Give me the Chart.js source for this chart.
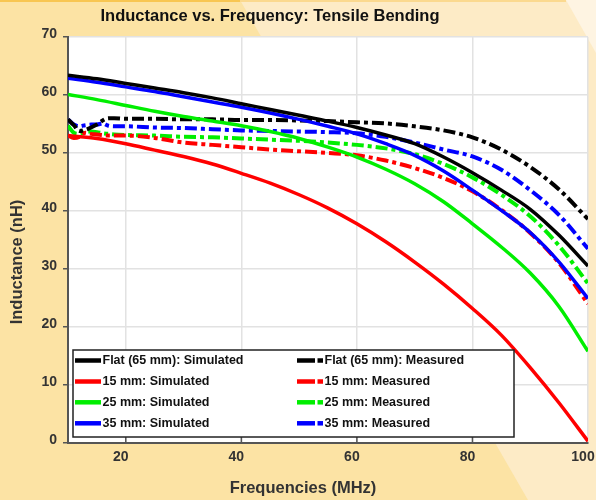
<!DOCTYPE html>
<html>
<head>
<meta charset="utf-8">
<script src="https://cdn.jsdelivr.net/npm/chart.js@4/dist/chart.umd.min.js"></script>
<style>
  html, body { margin: 0; padding: 0; background: #FCE3A4; }
  #wrap { width: 596px; height: 500px; position: relative; }
</style>
</head>
<body>
<div id="wrap"><canvas id="c" width="596" height="500"></canvas></div>
<script>
// ---- data ----
const simFreq = [10,15,20,25,30,35,40,45,50,55,60,65,70,75,80,85,90,95,100];
const flatSim = [63.4,62.8,62.0,61.2,60.4,59.5,58.5,57.5,56.5,55.5,54.4,53.1,51.6,49.3,46.6,43.6,40.3,35.8,30.5];
const mm15Sim = [53.0,52.5,51.6,50.5,49.4,48.1,46.5,44.8,42.8,40.5,37.8,34.7,31.2,27.4,23.2,18.6,13.0,6.9,0.3];
const mm25Sim = [60.1,59.2,58.2,57.2,56.3,55.5,54.7,53.7,52.5,51.0,49.3,47.2,44.7,41.6,37.8,33.8,29.3,23.5,15.8];
const mm35Sim = [62.9,62.2,61.4,60.6,59.7,58.8,57.9,56.9,55.8,54.6,53.3,51.6,49.6,46.9,43.6,40.1,36.3,31.2,24.9];

const measFreq = [10,11,12,13,14,15,16,17,18,20,25,30,35,40,45,50,55,60,65,70,75,80,85,90,95,100];
const flatMeas = [55.8,54.8,53.8,54.0,54.4,54.9,55.6,56.0,56.0,55.9,55.9,55.8,55.8,55.7,55.7,55.6,55.5,55.3,55.1,54.6,53.9,52.7,50.6,47.6,43.7,38.6];
const mm15Meas = [53.0,52.6,52.8,53.5,53.3,53.2,53.1,53.0,53.0,53.0,52.6,51.8,51.4,51.0,50.6,50.3,50.0,49.6,48.7,47.4,45.7,43.4,40.2,36.2,31.0,24.0];
const mm25Meas = [54.7,53.5,53.3,53.6,53.7,53.6,53.4,53.3,53.2,53.1,53.0,52.8,52.7,52.5,52.3,52.1,51.8,51.4,50.8,49.8,48.1,45.8,42.8,39.1,34.0,27.5];
const mm35Meas = [55.8,54.9,54.6,54.8,54.9,54.9,55.1,54.7,54.6,54.6,54.4,54.3,54.1,53.9,53.8,53.7,53.6,53.4,52.8,51.8,50.6,49.4,47.1,43.6,39.3,33.5];

const xTicks = [20,40,60,80,100];
const yTicks = [0,10,20,30,40,50,60,70];
const seriesLabels = ['Flat (65 mm): Simulated','15 mm: Simulated','25 mm: Simulated','35 mm: Simulated',
                      'Flat (65 mm): Measured','15 mm: Measured','25 mm: Measured','35 mm: Measured'];
const seriesColors = ['#000000','#FF0000','#00EE00','#0000FF'];

const FONT = "'Liberation Sans', Arial, sans-serif";
const DASH = [12,4,4,4];

function pts(xs, ys){ return xs.map((x,i)=>({x:x, y:ys[i]})); }
function ds(label, xs, ys, color, dashed){
  return {
    label: label, data: pts(xs, ys), borderColor: color, backgroundColor: color,
    borderWidth: dashed ? 4 : 3.5, borderDash: dashed ? DASH : [],
    pointRadius: 0, cubicInterpolationMode: 'monotone', fill: false, _dashed: dashed
  };
}

const datasets = [
  ds(seriesLabels[0], simFreq, flatSim, seriesColors[0], false),
  ds(seriesLabels[1], simFreq, mm15Sim, seriesColors[1], false),
  ds(seriesLabels[2], simFreq, mm25Sim, seriesColors[2], false),
  ds(seriesLabels[3], simFreq, mm35Sim, seriesColors[3], false),
  ds(seriesLabels[4], measFreq, flatMeas, seriesColors[0], true),
  ds(seriesLabels[5], measFreq, mm15Meas, seriesColors[1], true),
  ds(seriesLabels[6], measFreq, mm25Meas, seriesColors[2], true),
  ds(seriesLabels[7], measFreq, mm35Meas, seriesColors[3], true)
];

const decor = {
  id: 'decor',
  beforeDraw(chart){
    const ctx = chart.ctx;
    ctx.save();
    ctx.fillStyle = '#FCE3A4';
    ctx.fillRect(0,0,596,500);
    ctx.fillStyle = '#FDEBC6';
    ctx.beginPath(); ctx.moveTo(240,0); ctx.lineTo(596,0); ctx.lineTo(596,500); ctx.lineTo(528,500); ctx.closePath(); ctx.fill();
    ctx.fillStyle = '#FEF4E2';
    ctx.beginPath(); ctx.moveTo(566,0); ctx.lineTo(596,0); ctx.lineTo(596,53); ctx.closePath(); ctx.fill();
    ctx.fillStyle = '#F8C652';
    ctx.fillRect(0,0,240,2);
    ctx.fillStyle = '#FBD98F';
    ctx.fillRect(240,0,326,2);
    const a = chart.chartArea;
    ctx.fillStyle = '#FFFFFF';
    ctx.fillRect(a.left, a.top, a.right-a.left, a.bottom-a.top);
    ctx.restore();
  },
  afterDraw(chart){
    const ctx = chart.ctx, a = chart.chartArea, xs = chart.scales.x;
    ctx.save();
    // inward x ticks
    ctx.strokeStyle = '#555'; ctx.lineWidth = 1.5;
    xTicks.slice(0,-1).forEach(v=>{
      const px = xs.getPixelForValue(v);
      ctx.beginPath(); ctx.moveTo(px, a.bottom); ctx.lineTo(px, a.bottom-6); ctx.stroke();
    });
    // titles
    ctx.fillStyle = '#111';
    ctx.font = 'bold 16.5px ' + FONT;
    ctx.textAlign = 'center'; ctx.textBaseline = 'middle';
    ctx.fillText('Inductance vs. Frequency: Tensile Bending', 270, 16);
    ctx.fillStyle = '#333';
    ctx.fillText('Frequencies (MHz)', 303, 488);
    ctx.save();
    ctx.translate(17.5, 262); ctx.rotate(-Math.PI/2);
    ctx.fillText('Inductance (nH)', 0, 0);
    ctx.restore();
    // legend
    const L = 73, T = 350, R = 514, B = 437;
    ctx.fillStyle = '#FFFFFF';
    ctx.fillRect(L, T, R-L, B-T);
    ctx.strokeStyle = '#222'; ctx.lineWidth = 1.5;
    ctx.strokeRect(L, T, R-L, B-T);
    const rows = [360.5, 381.5, 402.3, 423.3];
    ctx.font = 'bold 12.5px ' + FONT;
    ctx.textAlign = 'left'; ctx.textBaseline = 'middle';
    chart.data.datasets.forEach((d, i)=>{
      const col = i < 4 ? 0 : 1;
      const y = rows[i % 4];
      const x0 = col === 0 ? 75 : 297;
      ctx.strokeStyle = d.borderColor; ctx.lineWidth = 4.5; ctx.lineCap = 'butt';
      if (!d._dashed) {
        ctx.beginPath(); ctx.moveTo(x0, y); ctx.lineTo(x0+26, y); ctx.stroke();
      } else {
        ctx.beginPath(); ctx.moveTo(x0, y); ctx.lineTo(x0+18, y); ctx.stroke();
        ctx.beginPath(); ctx.moveTo(x0+20.5, y); ctx.lineTo(x0+26, y); ctx.stroke();
      }
      ctx.fillStyle = '#111';
      ctx.fillText(d.label, x0+27.5, y+0.5);
    });
    ctx.restore();
  }
};

new Chart(document.getElementById('c'), {
  type: 'line',
  data: { datasets: datasets },
  plugins: [decor],
  options: {
    responsive: false, animation: false, devicePixelRatio: 1,
    layout: { padding: { left: 0, right: 8, top: 37, bottom: 0 } },
    plugins: { legend: { display: false }, title: { display: false }, tooltip: { enabled: false } },
    scales: {
      x: {
        type: 'linear', min: 10, max: 100,
        afterFit: s => { s.height = 57; s.paddingLeft = 0; s.paddingRight = 0; },
        afterBuildTicks: s => { s.ticks = xTicks.map(v=>({value:v})); },
        ticks: { font: { family: FONT, size: 14, weight: 'bold' }, color: '#333', padding: 6, labelOffset: -5, maxRotation: 0, autoSkip: false },
        grid: { color: '#e2e2e2', lineWidth: 1.5, drawTicks: false },
        border: { display: true, color: '#555', width: 2 }
      },
      y: {
        type: 'linear', min: 0, max: 70,
        afterFit: s => { s.width = 68; s.paddingTop = 0; s.paddingBottom = 0; },
        afterBuildTicks: s => { s.ticks = yTicks.map(v=>({value:v})); },
        ticks: { font: { family: FONT, size: 14, weight: 'bold' }, color: '#333', padding: 6, labelOffset: -3 },
        grid: { color: '#e2e2e2', lineWidth: 1.5, tickColor: '#555', tickLength: 5 },
        border: { display: true, color: '#555', width: 2 }
      }
    }
  }
});
</script>
</body>
</html>
